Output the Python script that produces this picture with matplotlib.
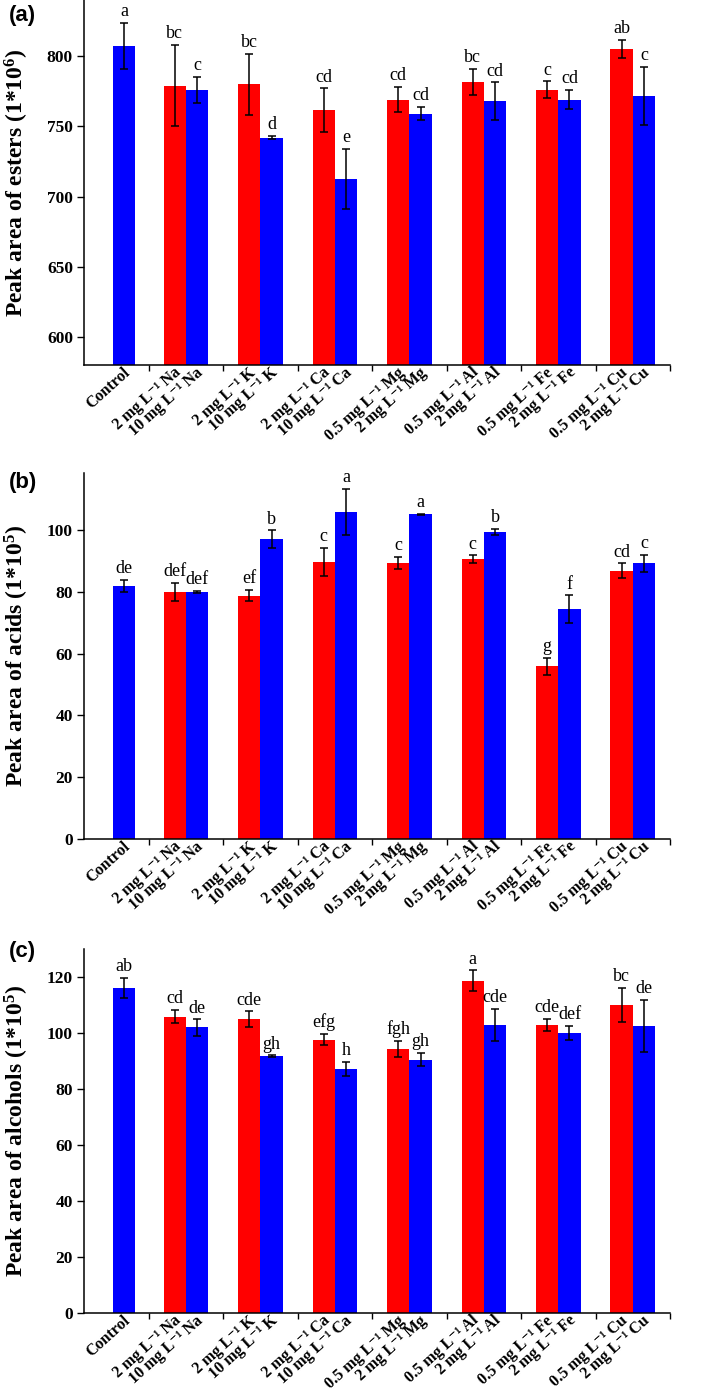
import matplotlib
matplotlib.use("Agg")
import matplotlib.pyplot as plt
import numpy as np

plt.rcParams['font.family'] = ['Liberation Serif', 'DejaVu Serif']
plt.rcParams['mathtext.fontset'] = 'custom'
plt.rcParams['mathtext.rm'] = 'Liberation Serif:bold'
plt.rcParams['mathtext.bf'] = 'Liberation Serif:bold'
plt.rcParams['mathtext.it'] = 'Liberation Serif:bold:italic'

U = ' mg L\u207b\u00b9 '
# treatments (one bar each)
treatments = ['Control',
              '2' + U + 'Na', '10' + U + 'Na',
              '2' + U + 'K', '10' + U + 'K',
              '2' + U + 'Ca', '10' + U + 'Ca',
              '0.5' + U + 'Mg', '2' + U + 'Mg',
              '0.5' + U + 'Al', '2' + U + 'Al',
              '0.5' + U + 'Fe', '2' + U + 'Fe',
              '0.5' + U + 'Cu', '2' + U + 'Cu']

# (a) esters, 1*10^6
esters = [807, 779, 776, 780, 742, 761.5, 712.5, 769, 759, 781.5, 768, 776, 769, 805, 771.5]
esters_err = [16.5, 29, 9.4, 21.7, 1.2, 15.5, 21.7, 9, 4.7, 9.5, 13.3, 6, 6.9, 6.5, 20.8]
esters_sig = ['a', 'bc', 'c', 'bc', 'd', 'cd', 'e', 'cd', 'cd', 'bc', 'cd', 'c', 'cd', 'ab', 'c']

# (b) acids, 1*10^5
acids = [81.9, 80.0, 80.0, 78.8, 97.1, 89.7, 105.9, 89.3, 105.1, 90.6, 99.4, 55.9, 74.4, 86.9, 89.2]
acids_err = [2.0, 2.9, 0.3, 1.8, 2.8, 4.5, 7.4, 2.0, 0.2, 1.2, 1.0, 2.8, 4.5, 2.3, 2.8]
acids_sig = ['de', 'def', 'def', 'ef', 'b', 'c', 'a', 'c', 'a', 'c', 'b', 'g', 'f', 'cd', 'c']

# (c) alcohols, 1*10^5
alcohols = [116.1, 105.8, 102.0, 105.0, 91.7, 97.6, 87.1, 94.2, 90.5, 118.7, 102.9, 102.9, 100.0, 110.1, 102.5]
alcohols_err = [3.7, 2.4, 2.9, 2.7, 0.3, 2.0, 2.5, 2.9, 2.3, 3.7, 5.8, 2.1, 2.6, 6.0, 9.3]
alcohols_sig = ['ab', 'cd', 'de', 'cde', 'gh', 'efg', 'h', 'fgh', 'gh', 'a', 'cde', 'cde', 'def', 'bc', 'de']

RED = '#ff0000'
BLUE = '#0000ff'
width = 0.30

# bar positions: control alone, then pairs centred on 1..7
pos = [0.17]
cols = [BLUE]
for k in range(1, 8):
    pos += [k - width / 2, k + width / 2]
    cols += [RED, BLUE]
pos = np.array(pos)

panels = [
    ('(a)', esters, esters_err, esters_sig, 'Peak area of esters (1*10$^{6}$)', (580, 840), [600, 650, 700, 750, 800]),
    ('(b)', acids, acids_err, acids_sig, 'Peak area of acids (1*10$^{5}$)', (0, 118.5), [0, 20, 40, 60, 80, 100]),
    ('(c)', alcohols, alcohols_err, alcohols_sig, 'Peak area of alcohols (1*10$^{5}$)', (0, 130), [0, 20, 40, 60, 80, 100, 120]),
]

# axes boxes in pixels (top, bottom) of a 709x1391 figure
W, H = 709, 1391
boxes = [(0, 365), (473, 839), (949, 1313)]
letter_y = [16, 482, 952]

fig = plt.figure(figsize=(W / 100, H / 100), dpi=100)

for (tag, vals, errs, sig, ylab, ylim, yticks), (top, bot), ly in zip(panels, boxes, letter_y):
    ax = fig.add_axes([84 / W, 1 - bot / H, (670 - 84) / W, (bot - top) / H])
    ax.bar(pos, vals, width=width, color=cols, linewidth=0)
    ax.errorbar(pos, vals, yerr=errs, fmt='none', ecolor='black', elinewidth=1.1,
                capsize=3.2, capthick=1.1)
    for x, v, e, s in zip(pos, vals, errs, sig):
        ax.annotate(s, (x, v + e), xytext=(0, 2), textcoords='offset points',
                    ha='center', va='bottom', fontsize=13)

    ax.set_xlim(-0.37, 7.5)
    ax.set_ylim(*ylim)
    ax.set_yticks(yticks)
    ax.set_xticks(pos + 0.05)
    ax.set_xticklabels(treatments, rotation=42, ha='right', va='center',
                       rotation_mode='anchor', fontsize=11.5, fontweight='bold')
    ax.set_xticks(np.arange(0.5, 8, 1), minor=True)
    ax.tick_params(axis='x', which='major', length=0, pad=4)
    ax.tick_params(axis='x', which='minor', length=4, width=1, direction='out')
    ax.tick_params(axis='y', length=5, width=1, direction='out', pad=3, labelsize=12.5)
    for t in ax.get_yticklabels():
        t.set_fontweight('bold')

    ax.spines['top'].set_visible(False)
    ax.spines['right'].set_visible(False)
    ax.spines['left'].set_linewidth(1.1)
    ax.spines['bottom'].set_linewidth(1.1)

    ax.set_ylabel(ylab, fontsize=17, fontweight='bold')
    ax.yaxis.set_label_coords(-0.09, 0.5)

    fig.text(9 / W, 1 - ly / H, tag, fontsize=16, fontweight='bold',
             family='Liberation Sans', va='center', ha='left')

fig.savefig('out.png', dpi=100)
